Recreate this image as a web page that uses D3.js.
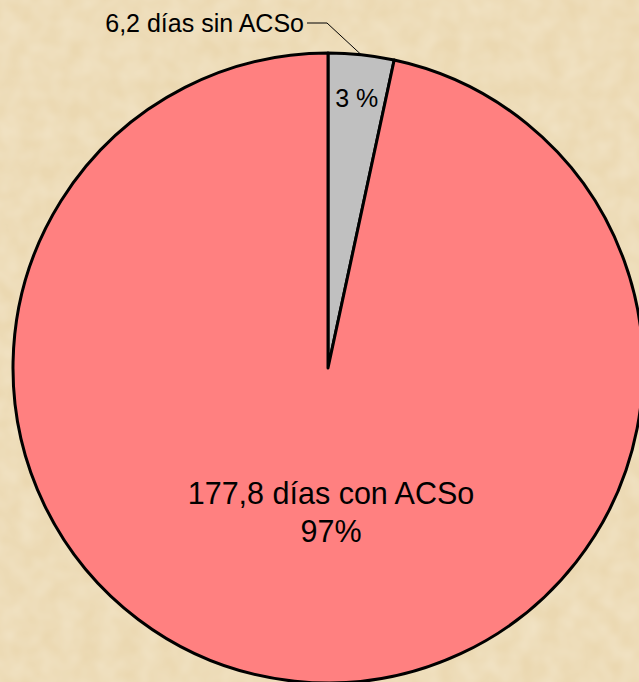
<!DOCTYPE html>
<html>
<head>
<meta charset="utf-8">
<script src="https://cdn.jsdelivr.net/npm/d3@7/dist/d3.min.js"></script>
<style>
  html, body { margin: 0; padding: 0; background: #ecdab4; }
  svg { display: block; }
</style>
</head>
<body>
<div id="pie"></div>
<script>
const categories = ["6,2 días sin ACSo", "177,8 días con ACSo"]
const values = [6.2, 177.8]
const pctLabels = ["3 %", "97%"]
const colors = ["#c0c0c0", "#ff8080"]

const width = 639
const height = 682
const cx = 328, cy = 368
const radius = 315

const svg = d3.select("div#pie")
  .append("svg")
  .attr("width", width)
  .attr("height", height)

// parchment-ish background
const defs = svg.append("defs")
const f = defs.append("filter").attr("id", "paper").attr("x", 0).attr("y", 0).attr("width", "100%").attr("height", "100%")
f.append("feTurbulence").attr("type", "fractalNoise").attr("baseFrequency", 0.05).attr("numOctaves", 2).attr("seed", 3)
f.append("feColorMatrix").attr("type", "matrix")
  .attr("values", "0 0 0 0 0.97  0 0 0 0 0.91  0 0 0 0 0.78  0.5 0 0 0 -0.1")
svg.append("rect").attr("width", width).attr("height", height).attr("fill", "#ebd8b1")
svg.append("rect").attr("width", width).attr("height", height).attr("filter", "url(#paper)")

const data = categories.map((c, i) => ({ name: c, value: values[i], pct: pctLabels[i], color: colors[i] }))

const pie = d3.pie()
  .sort(null)
  .value(d => d.value)

const arc = d3.arc()
  .innerRadius(0)
  .outerRadius(radius)

const arcs = pie(data)

const g = svg.append("g").attr("transform", `translate(${cx},${cy})`)

g.selectAll("path")
  .data(arcs)
  .join("path")
    .attr("fill", d => d.data.color)
    .attr("stroke", "#000")
    .attr("stroke-width", 3)
    .attr("stroke-linejoin", "round")
    .attr("d", arc)

// small slice: percent inside, name outside with leader line
const small = arcs[0]
const inner = d3.arc().innerRadius(272).outerRadius(272)
const [px, py] = inner.centroid(small)
g.append("text")
  .attr("x", px)
  .attr("y", py + 9)
  .attr("text-anchor", "middle")
  .attr("font-family", "Liberation Sans, Arial, sans-serif")
  .attr("font-size", 25)
  .text(small.data.pct)

const edge = d3.arc().innerRadius(radius).outerRadius(radius)
const [ex, ey] = edge.centroid(small)
g.append("polyline")
  .attr("points", [[ex, ey], [-1, 23 - cy], [-21, 23 - cy]].map(p => p.join(",")).join(" "))
  .attr("fill", "none")
  .attr("stroke", "#000")
  .attr("stroke-width", 1)

g.append("text")
  .attr("x", -24)
  .attr("y", 32 - cy)
  .attr("text-anchor", "end")
  .attr("font-family", "Liberation Sans, Arial, sans-serif")
  .attr("font-size", 25)
  .text(small.data.name)

// big slice label
const big = arcs[1]
const t = g.append("text")
  .attr("text-anchor", "middle")
  .attr("font-family", "Liberation Sans, Arial, sans-serif")
  .attr("font-size", 30.5)
t.append("tspan").attr("x", 3).attr("y", 504 - cy).text(big.data.name)
t.append("tspan").attr("x", 3).attr("y", 542 - cy).text(big.data.pct)
</script>
</body>
</html>
